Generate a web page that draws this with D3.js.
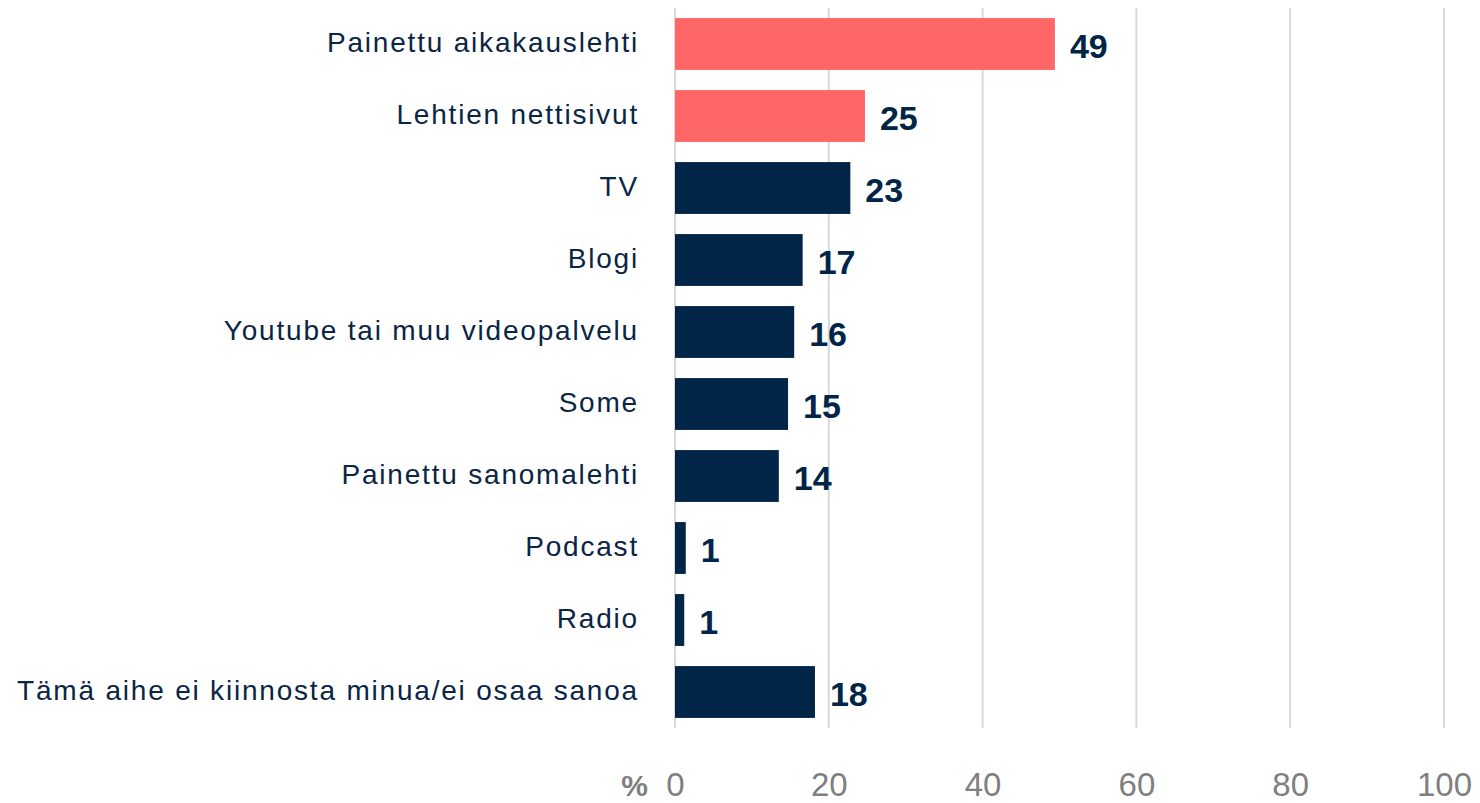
<!DOCTYPE html>
<html>
<head>
<meta charset="utf-8">
<script src="https://cdn.jsdelivr.net/npm/d3@7"></script>
<style>
  body { margin: 0; background: #fff; }
  text { font-family: "Liberation Sans", Arial, sans-serif; }
</style>
</head>
<body>
<svg id="chart"></svg>
<script>
// data
const categories = [
  "Painettu aikakauslehti",
  "Lehtien nettisivut",
  "TV",
  "Blogi",
  "Youtube tai muu videopalvelu",
  "Some",
  "Painettu sanomalehti",
  "Podcast",
  "Radio",
  "Tämä aihe ei kiinnosta minua/ei osaa sanoa"
];
const values = [49.4, 24.7, 22.8, 16.6, 15.5, 14.7, 13.5, 1.4, 1.2, 18.2];
const valueLabels = ["49", "25", "23", "17", "16", "15", "14", "1", "1", "18"];
const highlighted = ["Painettu aikakauslehti", "Lehtien nettisivut"];
const xTicks = [0, 20, 40, 60, 80, 100];

const width = 1480, height = 803;
const plotLeft = 675, plotRight = 1444, plotTop = 8, plotBottom = 728;

const svg = d3.select("#chart")
  .attr("width", width)
  .attr("height", height);

const xScale = d3.scaleLinear()
  .domain([0, 100])
  .range([plotLeft, plotRight]);

const yScale = d3.scaleBand()
  .domain(categories)
  .range([plotTop, plotBottom])
  .paddingInner(0.28)
  .paddingOuter(0.14);

// gridlines
svg.append("g")
  .selectAll("line")
  .data(xTicks)
  .enter()
  .append("line")
    .attr("x1", d => xScale(d))
    .attr("x2", d => xScale(d))
    .attr("y1", plotTop)
    .attr("y2", plotBottom)
    .attr("stroke", "#d9d9d9")
    .attr("stroke-width", 2);

// bars
svg.append("g")
  .selectAll("rect")
  .data(categories)
  .enter()
  .append("rect")
    .attr("x", xScale(0))
    .attr("y", d => yScale(d))
    .attr("width", (d, i) => xScale(values[i]) - xScale(0))
    .attr("height", yScale.bandwidth())
    .attr("fill", d => highlighted.includes(d) ? "#ff6666" : "#002547");

// value labels
svg.append("g")
  .selectAll("text")
  .data(categories)
  .enter()
  .append("text")
    .attr("x", (d, i) => xScale(values[i]) + 15)
    .attr("y", d => yScale(d) + yScale.bandwidth() / 2 + 14)
    .attr("fill", "#002547")
    .style("font-size", "34px")
    .style("font-weight", "bold")
    .text((d, i) => valueLabels[i]);

// category axis (no line, no ticks)
const yAxis = svg.append("g")
  .attr("transform", `translate(${plotLeft}, 0)`)
  .call(d3.axisLeft(yScale).tickSize(0).tickPadding(36));
yAxis.select(".domain").remove();
yAxis.selectAll("text")
  .attr("fill", "#0b2545")
  .style("font-size", "28px")
  .style("letter-spacing", "1.8px")
  .attr("dy", "0.3em");

// value axis at the bottom
const xAxis = svg.append("g")
  .attr("transform", `translate(0, ${plotBottom})`)
  .call(d3.axisBottom(xScale).tickValues(xTicks).tickSize(0).tickPadding(45));
xAxis.select(".domain").remove();
xAxis.selectAll("text")
  .attr("fill", "#7f7f7f")
  .style("font-size", "33px");

svg.append("text")
  .attr("x", 648)
  .attr("y", 796)
  .attr("text-anchor", "end")
  .attr("fill", "#7f7f7f")
  .style("font-size", "30px")
  .style("font-weight", "bold")
  .text("%");
</script>
</body>
</html>
